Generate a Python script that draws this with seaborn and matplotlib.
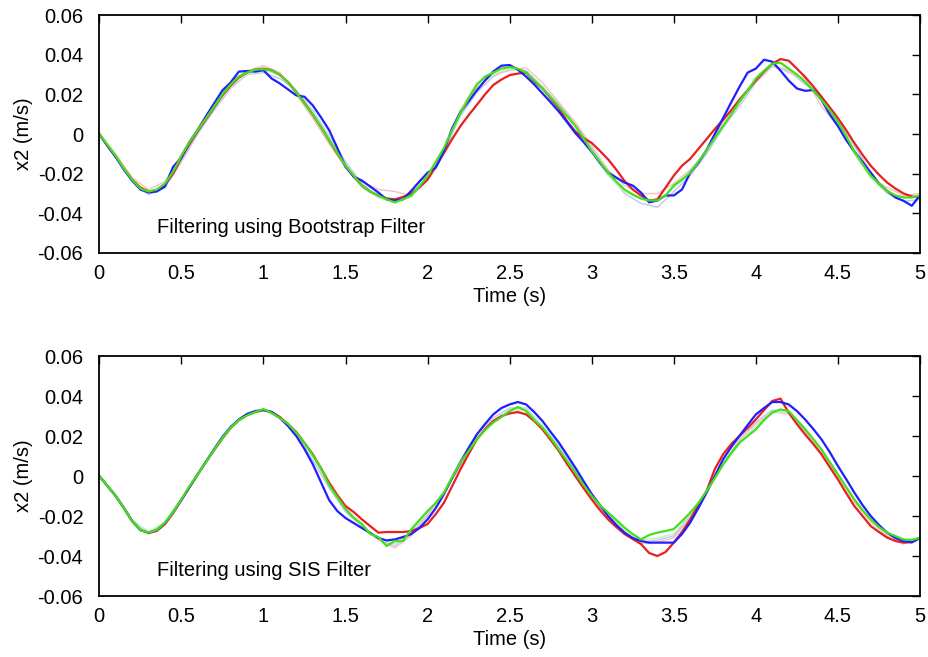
import numpy as np
import pandas as pd
import matplotlib
matplotlib.use("Agg")
import matplotlib.pyplot as plt
import seaborn as sns

# ---------------- data ----------------
t_fine = [round(i * 0.05, 2) for i in range(101)]
t_coarse = [round(i * 0.1, 1) for i in range(51)]

# Top panel (Bootstrap filter)
green_top = [
    0.0, -0.0055, -0.011, -0.0175, -0.023, -0.0275, -0.029, -0.028, -0.025, -0.019,
    -0.011, -0.004, 0.002, 0.008, 0.014, 0.020, 0.025, 0.029, 0.031, 0.0325,
    0.0327, 0.032, 0.030, 0.026, 0.021, 0.0155, 0.010, 0.0035, -0.003, -0.0095,
    -0.016, -0.021, -0.026, -0.029, -0.031, -0.033, -0.0345, -0.033, -0.031, -0.0265,
    -0.021, -0.014, -0.007, 0.002, 0.0105, 0.018, 0.0247, 0.029, 0.031, 0.033,
    0.0338, 0.033, 0.031, 0.027, 0.023, 0.0185, 0.0138, 0.009, 0.004, -0.002,
    -0.0087, -0.014, -0.0195, -0.024, -0.028, -0.0305, -0.0325, -0.0335, -0.0335, -0.031,
    -0.026, -0.023, -0.0195, -0.014, -0.008, -0.002, 0.004, 0.010, 0.0163, 0.022,
    0.028, 0.032, 0.0355, 0.036, 0.033, 0.030, 0.0263, 0.022, 0.0172, 0.012,
    0.0063, -0.001, -0.0087, -0.015, -0.021, -0.025, -0.0287, -0.031, -0.032, -0.032,
    -0.031]
red_top = [
    0.0, -0.006, -0.0115, -0.0175, -0.023, -0.027, -0.029, -0.0285, -0.0255, -0.020,
    -0.012, -0.005, 0.0015, 0.0075, 0.0135, 0.0195, 0.0245, 0.0285, 0.031, 0.0325,
    0.033, 0.0322, 0.0298, 0.0262, 0.0212, 0.0157, 0.0098, 0.0035, -0.0032, -0.0098,
    -0.016, -0.0215, -0.026, -0.029, -0.031, -0.0325, -0.033, -0.0318, -0.030, -0.027,
    -0.023, -0.0165, -0.0095, -0.0025, 0.004, 0.0095, 0.0147, 0.020, 0.0247, 0.0275,
    0.0297, 0.0305, 0.031, 0.0265, 0.023, 0.018, 0.013, 0.0065, 0.0013, -0.002,
    -0.0045, -0.0085, -0.0128, -0.018, -0.0237, -0.028, -0.031, -0.0335, -0.033, -0.027,
    -0.021, -0.016, -0.0125, -0.0075, -0.0025, 0.0025, 0.0072, 0.012, 0.0172, 0.022,
    0.027, 0.0315, 0.0355, 0.0378, 0.037, 0.033, 0.0288, 0.024, 0.0188, 0.0135,
    0.008, 0.002, -0.0045, -0.0105, -0.016, -0.0205, -0.0245, -0.0275, -0.030, -0.0315,
    -0.032]
blue_top = [
    0.0, -0.006, -0.0115, -0.018, -0.0235, -0.028, -0.0295, -0.029, -0.0265, -0.0165,
    -0.012, -0.004, 0.002, 0.009, 0.0155, 0.022, 0.026, 0.0315, 0.0318, 0.0315,
    0.0322, 0.028, 0.0255, 0.0225, 0.0195, 0.0188, 0.0145, 0.0085, 0.002, -0.007,
    -0.0165, -0.0215, -0.0235, -0.0265, -0.0295, -0.033, -0.0335, -0.033, -0.0287, -0.024,
    -0.0195, -0.017, -0.0085, 0.003, 0.011, 0.0165, 0.022, 0.027, 0.0315, 0.0345,
    0.0348, 0.0325, 0.029, 0.025, 0.0205, 0.016, 0.0113, 0.006, 0.0005, -0.004,
    -0.009, -0.0145, -0.0195, -0.022, -0.0245, -0.026, -0.0295, -0.0345, -0.0335, -0.031,
    -0.031, -0.028, -0.0195, -0.0145, -0.008, 0.0, 0.008, 0.016, 0.0238, 0.031,
    0.033, 0.0375, 0.0365, 0.032, 0.027, 0.023, 0.0218, 0.0222, 0.0172, 0.010,
    0.004, -0.003, -0.0087, -0.014, -0.0195, -0.025, -0.0287, -0.032, -0.0337, -0.0362,
    -0.031]
faint_blue_top = [
    0, -0.012, -0.024, -0.0305, -0.027, -0.014, 0.000, 0.012, 0.023, 0.030,
    0.031, 0.028, 0.022, 0.012, -0.001, -0.014, -0.025, -0.032, -0.033, -0.030,
    -0.022, -0.009, 0.009, 0.021, 0.029, 0.033, 0.032, 0.024, 0.015, 0.005,
    -0.007, -0.020, -0.030, -0.035, -0.037, -0.029, -0.021, -0.010, 0.003, 0.014,
    0.026, 0.034, 0.032, 0.025, 0.019, 0.008, -0.006, -0.019, -0.030, -0.034,
    -0.033]
faint_red_top = [
    0, -0.010, -0.022, -0.028, -0.024, -0.010, 0.003, 0.015, 0.026, 0.032,
    0.0345, 0.031, 0.020, 0.008, -0.005, -0.017, -0.024, -0.028, -0.029, -0.031,
    -0.023, -0.008, 0.012, 0.026, 0.030, 0.032, 0.0335, 0.026, 0.016, 0.006,
    -0.006, -0.018, -0.026, -0.030, -0.030, -0.025, -0.018, -0.009, 0.006, 0.018,
    0.027, 0.035, 0.031, 0.028, 0.014, 0.004, -0.010, -0.022, -0.027, -0.031,
    -0.030]
faint_green_top = [
    0, -0.011, -0.023, -0.030, -0.026, -0.012, 0.001, 0.013, 0.024, 0.030,
    0.032, 0.030, 0.022, 0.011, -0.002, -0.015, -0.027, -0.032, -0.034, -0.032,
    -0.022, -0.008, 0.010, 0.023, 0.030, 0.033, 0.031, 0.024, 0.014, 0.004,
    -0.009, -0.021, -0.029, -0.033, -0.034, -0.027, -0.020, -0.009, 0.004, 0.015,
    0.027, 0.034, 0.033, 0.027, 0.018, 0.005, -0.010, -0.022, -0.030, -0.032,
    -0.032]

# Bottom panel (SIS filter)
green_bot = [
    0.0, -0.005, -0.010, -0.016, -0.0225, -0.027, -0.0283, -0.027, -0.0233, -0.018,
    -0.0117, -0.005, 0.001, 0.007, 0.0133, 0.019, 0.0242, 0.028, 0.0303, 0.032,
    0.0335, 0.0315, 0.029, 0.026, 0.0217, 0.0165, 0.0105, 0.004, -0.0045, -0.0105,
    -0.0165, -0.021, -0.024, -0.029, -0.0305, -0.035, -0.0325, -0.0325, -0.0267, -0.022,
    -0.0175, -0.0135, -0.0083, -0.0005, 0.0067, 0.0125, 0.0183, 0.023, 0.0267, 0.0295,
    0.0325, 0.0345, 0.0325, 0.028, 0.0242, 0.019, 0.0133, 0.0075, 0.0017, -0.0045,
    -0.010, -0.0145, -0.0183, -0.022, -0.0258, -0.029, -0.0317, -0.0295, -0.0283, -0.0275,
    -0.0265, -0.0225, -0.0183, -0.0135, -0.0075, -0.001, 0.0058, 0.0115, 0.0167, 0.020,
    0.0233, 0.028, 0.0317, 0.0333, 0.0325, 0.028, 0.0233, 0.0185, 0.0133, 0.007,
    0.0008, -0.0055, -0.0117, -0.017, -0.0217, -0.0255, -0.0283, -0.030, -0.0317, -0.032,
    -0.0308]
red_bot = [
    0.0, -0.005, -0.010, -0.016, -0.0225, -0.027, -0.0285, -0.0275, -0.024, -0.0185,
    -0.012, -0.0055, 0.0008, 0.007, 0.013, 0.0188, 0.024, 0.028, 0.0305, 0.032,
    0.033, 0.032, 0.0295, 0.026, 0.022, 0.0165, 0.011, 0.004, -0.0033, -0.0095,
    -0.015, -0.018, -0.0217, -0.025, -0.0283, -0.028, -0.028, -0.028, -0.0275, -0.026,
    -0.024, -0.019, -0.0133, -0.005, 0.0033, 0.011, 0.0183, 0.0235, 0.0275, 0.030,
    0.0313, 0.032, 0.0308, 0.0275, 0.0233, 0.018, 0.0125, 0.006, 0.0, -0.006,
    -0.0117, -0.017, -0.0217, -0.0255, -0.029, -0.0315, -0.034, -0.0385, -0.040, -0.038,
    -0.0333, -0.028, -0.0217, -0.0145, -0.0075, 0.0035, 0.0108, 0.016, 0.020, 0.024,
    0.0283, 0.033, 0.0375, 0.0387, 0.0317, 0.026, 0.0208, 0.016, 0.0108, 0.0045,
    -0.0017, -0.0085, -0.015, -0.020, -0.025, -0.028, -0.0308, -0.0325, -0.0333, -0.033,
    -0.0308]
blue_bot = [
    0.0, -0.005, -0.010, -0.016, -0.0225, -0.027, -0.0283, -0.027, -0.0235, -0.018,
    -0.012, -0.0055, 0.001, 0.0072, 0.0135, 0.0195, 0.0245, 0.0283, 0.031, 0.0325,
    0.033, 0.032, 0.029, 0.025, 0.020, 0.0135, 0.006, -0.003, -0.012, -0.0175,
    -0.021, -0.0235, -0.026, -0.0285, -0.031, -0.0322, -0.0317, -0.0305, -0.029, -0.026,
    -0.0217, -0.016, -0.009, -0.001, 0.0067, 0.014, 0.0208, 0.026, 0.0308, 0.034,
    0.0358, 0.037, 0.0358, 0.032, 0.0275, 0.022, 0.0167, 0.0105, 0.0042, -0.0025,
    -0.009, -0.0145, -0.020, -0.0245, -0.0283, -0.031, -0.0325, -0.0333, -0.0333, -0.0333,
    -0.0333, -0.029, -0.0233, -0.016, -0.0083, 0.0, 0.0083, 0.0145, 0.020, 0.0255,
    0.0308, 0.034, 0.037, 0.037, 0.0358, 0.0325, 0.0283, 0.0235, 0.0183, 0.012,
    0.005, -0.0015, -0.0083, -0.0145, -0.020, -0.0245, -0.0283, -0.031, -0.0325, -0.0332,
    -0.031]
faint_blue_bot = [
    0, -0.010, -0.022, -0.028, -0.024, -0.012, 0.001, 0.014, 0.025, 0.031,
    0.033, 0.029, 0.021, 0.008, -0.006, -0.018, -0.025, -0.032, -0.035, -0.029,
    -0.019, -0.008, 0.008, 0.021, 0.029, 0.034, 0.034, 0.025, 0.015, 0.003,
    -0.010, -0.020, -0.028, -0.033, -0.032, -0.030, -0.020, -0.007, 0.006, 0.018,
    0.027, 0.033, 0.032, 0.024, 0.013, 0.001, -0.012, -0.022, -0.029, -0.033,
    -0.031]
faint_red_bot = [
    0, -0.010, -0.023, -0.029, -0.024, -0.012, 0.001, 0.013, 0.024, 0.031,
    0.0335, 0.029, 0.022, 0.010, -0.004, -0.016, -0.024, -0.032, -0.036, -0.030,
    -0.020, -0.008, 0.005, 0.019, 0.027, 0.032, 0.031, 0.024, 0.013, 0.002,
    -0.011, -0.021, -0.029, -0.034, -0.033, -0.031, -0.021, -0.008, 0.006, 0.018,
    0.026, 0.032, 0.031, 0.022, 0.012, 0.000, -0.013, -0.023, -0.030, -0.034,
    -0.031]
faint_green_bot = [
    0, -0.010, -0.022, -0.028, -0.023, -0.011, 0.001, 0.013, 0.024, 0.030,
    0.033, 0.029, 0.021, 0.010, -0.005, -0.017, -0.025, -0.031, -0.034, -0.028,
    -0.018, -0.008, 0.007, 0.019, 0.027, 0.033, 0.033, 0.025, 0.014, 0.002,
    -0.010, -0.019, -0.027, -0.032, -0.031, -0.029, -0.019, -0.008, 0.005, 0.016,
    0.025, 0.032, 0.032, 0.023, 0.013, 0.001, -0.012, -0.022, -0.029, -0.032,
    -0.031]

x_ticks = [0, 0.5, 1, 1.5, 2, 2.5, 3, 3.5, 4, 4.5, 5]
x_tick_labels = ["0", "0.5", "1", "1.5", "2", "2.5", "3", "3.5", "4", "4.5", "5"]
y_ticks = [-0.06, -0.04, -0.02, 0, 0.02, 0.04, 0.06]
y_tick_labels = ["-0.06", "-0.04", "-0.02", "0", "0.02", "0.04", "0.06"]
panel_titles = ["Filtering using Bootstrap Filter", "Filtering using SIS Filter"]

# ---------------- style ----------------
sns.set_style("white")
plt.rcParams["font.family"] = ["Liberation Sans", "DejaVu Sans"]
plt.rcParams["axes.unicode_minus"] = False
plt.rcParams["text.color"] = "black"
plt.rcParams["axes.labelcolor"] = "black"

FS = 14.5

fig = plt.figure(figsize=(9.29, 6.57), dpi=100)
ax_top = fig.add_axes([0.1069, 0.615, 0.8834, 0.362])
ax_bot = fig.add_axes([0.1069, 0.0928, 0.8834, 0.3653])

C_BLUE = "#1f1fff"
C_RED = "#e82020"
C_GREEN = "#44e01c"
C_FBLUE = "#c4c4f4"
C_FRED = "#f2c2c2"
C_FGREEN = "#c4eec0"

panels = [
    (ax_top, (faint_blue_top, faint_red_top, faint_green_top),
     (red_top, blue_top, green_top), panel_titles[0]),
    (ax_bot, (faint_blue_bot, faint_red_bot, faint_green_bot),
     (red_bot, blue_bot, green_bot), panel_titles[1]),
]

for ax, faint, bold, title in panels:
    df_f = pd.DataFrame({"t": t_coarse, "fb": faint[0], "fr": faint[1], "fg": faint[2]})
    df_b = pd.DataFrame({"t": t_fine, "r": bold[0], "b": bold[1], "g": bold[2]})
    for col, c in (("fb", C_FBLUE), ("fr", C_FRED), ("fg", C_FGREEN)):
        sns.lineplot(data=df_f, x="t", y=col, ax=ax, color=c, lw=1.0,
                     estimator=None, sort=False, legend=False)
    for col, c in (("r", C_RED), ("b", C_BLUE), ("g", C_GREEN)):
        sns.lineplot(data=df_b, x="t", y=col, ax=ax, color=c, lw=1.6,
                     estimator=None, sort=False, legend=False)

    ax.set_xlim(0, 5)
    ax.set_ylim(-0.06, 0.06)
    ax.set_xticks(x_ticks)
    ax.set_xticklabels(x_tick_labels)
    ax.set_yticks(y_ticks)
    ax.set_yticklabels(y_tick_labels)
    ax.tick_params(direction="in", top=True, right=True, length=6, width=1.0,
                   labelsize=FS, colors="black")
    ax.tick_params(axis="y", pad=11.5)
    ax.tick_params(axis="x", pad=8)
    for sp in ax.spines.values():
        sp.set_visible(True)
        sp.set_color("black")
        sp.set_linewidth(1.3)
    ax.set_xlabel("Time (s)", fontsize=FS, labelpad=3, color="black")
    ax.set_ylabel("x2 (m/s)", fontsize=FS, labelpad=3, color="black")
    ax.text(0.35, -0.047, title, fontsize=FS, ha="left", va="center", color="black")
    ax.grid(False)

fig.savefig("out.png", dpi=100)
